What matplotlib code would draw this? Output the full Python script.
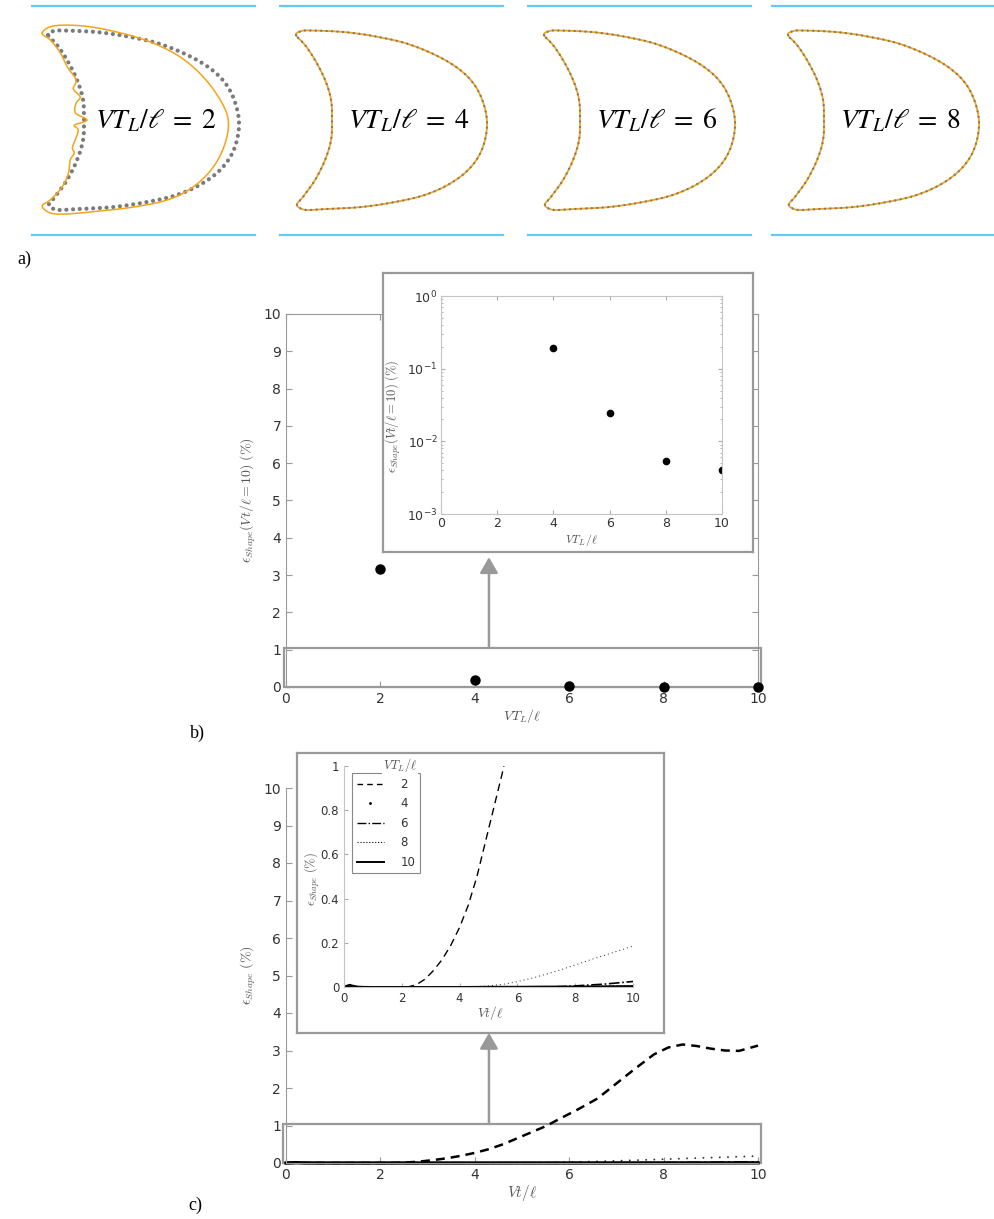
import numpy as np
import matplotlib
matplotlib.use('Agg')
import matplotlib.pyplot as plt
from matplotlib.lines import Line2D
from matplotlib.patches import Rectangle, FancyArrowPatch

plt.rcParams['font.family'] = 'DejaVu Sans'
plt.rcParams['mathtext.fontset'] = 'cm'

W, H = 995, 1219

# target outline of the droplet, channel width = 1
ref_x = [0.070, 0.092, 0.135, 0.284, 0.428, 0.572, 0.721, 0.821, 0.878, 0.904, 0.886, 0.834, 0.747,
         0.633, 0.502, 0.354, 0.210, 0.122, 0.086, 0.074, 0.100, 0.153, 0.197, 0.223, 0.227, 0.223,
         0.197, 0.153, 0.109]
ref_y = [0.873, 0.890, 0.893, 0.886, 0.865, 0.830, 0.764, 0.690, 0.603, 0.493, 0.384, 0.297, 0.227,
         0.175, 0.144, 0.122, 0.114, 0.109, 0.118, 0.135, 0.166, 0.240, 0.328, 0.415, 0.502, 0.590,
         0.677, 0.764, 0.830]

# outline obtained with VT_L/l = 2
cut_x = [0.044, 0.093, 0.224, 0.372, 0.517, 0.648, 0.748, 0.822, 0.857, 0.844, 0.792, 0.704, 0.591,
         0.442, 0.298, 0.154, 0.080, 0.044, 0.080, 0.132, 0.159, 0.167, 0.185, 0.176, 0.189, 0.202,
         0.185, 0.241, 0.189, 0.193, 0.211, 0.180, 0.193, 0.154, 0.124, 0.080]
cut_y = [0.881, 0.913, 0.913, 0.886, 0.843, 0.777, 0.690, 0.590, 0.502, 0.402, 0.297, 0.210, 0.153,
         0.122, 0.105, 0.092, 0.096, 0.127, 0.153, 0.210, 0.271, 0.328, 0.358, 0.380, 0.415, 0.459,
         0.480, 0.502, 0.533, 0.576, 0.603, 0.638, 0.677, 0.734, 0.795, 0.852]

vtl = [2, 4, 6, 8, 10]
err_end = [3.17, 0.19, 0.0245, 0.0054, 0.004]

# shape error history
t2 = [0, 0.5, 1.0, 1.5, 2.0, 2.2, 2.5, 2.8, 3.1, 3.4, 3.7, 4.0, 4.3, 4.6, 4.9, 5.2, 5.5, 5.8,
      6.2, 6.6, 7.0, 7.4, 7.8, 8.1, 8.4, 8.7, 9.0, 9.3, 9.6, 10.0]
e2 = [0, 0.002, 0, 0.001, 0, 0, 0.01, 0.035, 0.075, 0.125, 0.19, 0.27, 0.37, 0.50, 0.66, 0.82,
      0.98, 1.18, 1.44, 1.72, 2.12, 2.52, 2.90, 3.08, 3.16, 3.12, 3.05, 3.00, 2.99, 3.13]
t_grid = [0, 0.5, 1.0, 1.5, 2.0, 2.5, 3.0, 3.5, 4.0, 4.5, 5.0, 5.5, 6.0, 6.5, 7.0, 7.5, 8.0, 8.5,
          9.0, 9.5, 10.0]
e4 = [0, 0, 0, 0, 0, 0, 0, 0, 0, 0.001, 0.005, 0.012, 0.024, 0.04, 0.058, 0.078, 0.10, 0.122,
      0.143, 0.164, 0.185]
e6 = [0, 0, 0, 0, 0, 0, 0, 0, 0, 0, 0, 0, 0, 0, 0, 0.002, 0.005, 0.009, 0.013, 0.019, 0.025]
e8 = [0, 0, 0, 0, 0, 0, 0, 0, 0, 0, 0, 0, 0, 0, 0, 0, 0.002, 0.003, 0.0035, 0.0045, 0.0054]
t10 = [0, 0.1, 0.2, 0.3, 0.5, 1, 2, 3, 4, 5, 6, 7, 8, 9, 10]
e10 = [0, 0.006, 0.01, 0.006, 0.001, 0, 0, 0, 0, 0.001, 0.001, 0.002, 0.002, 0.003, 0.004]

GRAY = '#999999'
TXT = '#333333'
LAB = '#555555'


def px_axes(left, top, right, bottom):
    return fig.add_axes([left / W, 1 - bottom / H, (right - left) / W, (bottom - top) / H])


def smooth_closed(xs, ys, n=10):
    # closed Catmull-Rom curve through the outline points
    p = np.column_stack([xs, ys])
    m = len(p)
    out = []
    for i in range(m):
        p0, p1, p2, p3 = p[i - 1], p[i], p[(i + 1) % m], p[(i + 2) % m]
        for t in np.linspace(0, 1, n, endpoint=False):
            out.append(0.5 * (2 * p1 + (p2 - p0) * t + (2 * p0 - 5 * p1 + 4 * p2 - p3) * t ** 2
                              + (3 * p1 - p0 - 3 * p2 + p3) * t ** 3))
    out.append(out[0])
    out = np.array(out)
    return out[:, 0], out[:, 1]


fig = plt.figure(figsize=(W / 100, H / 100), dpi=100)

# ---- a) droplet outlines
rx, ry = smooth_closed(ref_x, ref_y)
cx, cy = smooth_closed(cut_x, cut_y, n=4)
panel_left = [32, 280, 528, 772]
for k, left in enumerate(panel_left):
    ax = px_axes(left, 6, left + 223, 235)
    ax.set_xlim(0, 223 / 229)
    ax.set_ylim(0, 1)
    ax.axis('off')
    for yy in (0, 1):
        ax.plot([0, 223 / 229], [yy, yy], color='#66c8f5', lw=1.6, clip_on=False)
    if k == 0:
        ax.plot(rx, ry, color='#7a7a7a', lw=3.0, linestyle=(0, (0.01, 1.6)),
                dash_capstyle='round')
        ax.plot(cx, cy, color='#f5a31a', lw=1.1)
        tx = 0.54
    else:
        ax.plot(rx, ry, color='#f5a31a', lw=1.3)
        ax.plot(rx, ry, color='#7a7a7a', lw=1.7, linestyle=(0, (0.01, 2.3)),
                dash_capstyle='round')
        tx = 0.56
    ax.text(tx, 0.5, r'$VT_L/\ell\;=\;%d$' % vtl[k], ha='center', va='center',
            fontsize=20, math_fontfamily='stix')

fig.text(17 / W, 1 - 259 / H, 'a)', family='Liberation Serif', fontsize=13, va='center')
fig.text(190 / W, 1 - 733 / H, 'b)', family='Liberation Serif', fontsize=13, va='center')
fig.text(188 / W, 1 - 1205 / H, 'c)', family='Liberation Serif', fontsize=13, va='center')

# ---- b) final shape error vs VT_L/l
ab = px_axes(286, 314, 758, 687)
ab.set_xlim(0, 10)
ab.set_ylim(0, 10)
ab.set_xticks(range(0, 11, 2))
ab.set_yticks(range(0, 11))
ab.tick_params(direction='in', top=True, right=True, length=4, width=0.8, color=GRAY,
               labelcolor=TXT, labelsize=10)
for s in ab.spines.values():
    s.set_color(GRAY)
ab.plot(vtl, err_end, 'o', color='k', ms=6.5, clip_on=False, zorder=5)
ab.add_patch(Rectangle((-0.04, 0), 10.1, 1.05, fill=False, ec=GRAY, lw=1.6, clip_on=False))
ab.add_patch(FancyArrowPatch((4.3, 1.05), (4.3, 3.48), arrowstyle='-|>,head_length=0.95,head_width=0.55',
                             mutation_scale=10, color=GRAY, lw=1.8, shrinkA=0, shrinkB=0))
ab.set_xlabel(r'$VT_L/\ell$', color=LAB, fontsize=10, va='center')
ab.xaxis.set_label_coords(0.5, -0.078)
ab.set_ylabel(r'$\epsilon_{Shape}(Vt/\ell = 10)\ (\%)$', color=LAB, fontsize=10, va='center')
ab.yaxis.set_label_coords(-0.08, 0.5)

fb = px_axes(383, 273, 753, 552)
fb.set_xticks([])
fb.set_yticks([])
for s in fb.spines.values():
    s.set_color(GRAY)
    s.set_linewidth(1.6)

ib = px_axes(441, 296, 722, 514)
ib.set_yscale('log')
ib.set_xlim(0, 10)
ib.set_ylim(1e-3, 1)
ib.set_xticks(range(0, 11, 2))
ib.plot(vtl[1:], err_end[1:], 'o', color='k', ms=4.5)
ib.tick_params(which='both', direction='in', top=True, right=True, color='#aaaaaa',
               labelcolor=TXT, labelsize=9, pad=2.5)
ib.tick_params(which='major', length=3)
ib.tick_params(which='minor', length=1.5)
for s in ib.spines.values():
    s.set_color('#c4c4c4')
ib.set_xlabel(r'$VT_L/\ell$', color=LAB, fontsize=8.5, va='center')
ib.xaxis.set_label_coords(0.5, -0.12)
ib.set_ylabel(r'$\epsilon_{Shape}(Vt/\ell = 10)\ (\%)$', color=LAB, fontsize=9, va='center')
ib.yaxis.set_label_coords(-0.17, 0.45)

# ---- c) shape error history
ac = px_axes(286, 788, 758, 1163)
ac.set_xlim(0, 10)
ac.set_ylim(0, 10)
ac.set_xticks(range(0, 11, 2))
ac.set_yticks(range(0, 11))
ac.spines['top'].set_visible(False)
ac.spines['right'].set_visible(False)
for s in ('left', 'bottom'):
    ac.spines[s].set_color(GRAY)
ac.tick_params(direction='in', length=4, width=0.8, color=GRAY, labelcolor=TXT, labelsize=10)
ac.plot(t2, e2, color='k', lw=1.8, linestyle=(0, (3.6, 2.4)), clip_on=False)
ac.plot(t_grid, e4, color='#333333', lw=1.4, linestyle=(0, (0.01, 4.2)),
        dash_capstyle='round', clip_on=False)
ac.plot(t_grid, e6, color='k', lw=1.6, linestyle='-.', clip_on=False)
ac.plot(t_grid, e8, color='k', lw=1.2, linestyle=':', clip_on=False)
ac.plot(t10, e10, color='k', lw=2.4, clip_on=False)
ac.add_patch(Rectangle((-0.06, 0), 10.12, 1.04, fill=False, ec=GRAY, lw=1.6, clip_on=False))
ac.add_patch(FancyArrowPatch((4.3, 1.04), (4.3, 3.47), arrowstyle='-|>,head_length=0.95,head_width=0.55',
                             mutation_scale=10, color=GRAY, lw=1.8, shrinkA=0, shrinkB=0))
ac.set_xlabel(r'$Vt/\ell$', color=LAB, fontsize=11, va='center')
ac.xaxis.set_label_coords(0.5, -0.08)
ac.set_ylabel(r'$\epsilon_{Shape}\ (\%)$', color=LAB, fontsize=10, va='center')
ac.yaxis.set_label_coords(-0.08, 0.5)

fc = px_axes(297, 753, 664, 1033)
fc.set_xticks([])
fc.set_yticks([])
for s in fc.spines.values():
    s.set_color(GRAY)
    s.set_linewidth(1.6)

ic = px_axes(344, 766, 633, 987)
ic.set_xlim(0, 10)
ic.set_ylim(0, 1)
ic.set_xticks(range(0, 11, 2))
ic.set_yticks([0, 0.2, 0.4, 0.6, 0.8, 1])
ic.set_yticklabels(['0', '0.2', '0.4', '0.6', '0.8', '1'])
ic.spines['top'].set_visible(False)
ic.spines['right'].set_visible(False)
for s in ('left', 'bottom'):
    ic.spines[s].set_color('#c4c4c4')
ic.tick_params(direction='in', length=3, color='#aaaaaa', labelcolor=TXT, labelsize=8.5)
ic.plot(t2, e2, color='k', lw=1.0, linestyle=(0, (5.5, 3.5)))
ic.plot(t_grid, e4, color='#333333', lw=0.9, linestyle=(0, (0.01, 3.2)), dash_capstyle='round')
ic.plot(t_grid, e6, color='k', lw=1.2, linestyle='-.')
ic.plot(t_grid, e8, color='k', lw=1.0, linestyle=':')
ic.plot(t10, e10, color='k', lw=1.4)
ic.set_xlabel(r'$Vt/\ell$', color=LAB, fontsize=9.5, va='center')
ic.xaxis.set_label_coords(0.505, -0.118)
ic.set_ylabel(r'$\epsilon_{Shape}\ (\%)$', color=LAB, fontsize=9, va='center')
ic.yaxis.set_label_coords(-0.11, 0.49)

handles = [Line2D([], [], color='k', lw=1.0, linestyle=(0, (4, 3))),
           Line2D([], [], color='k', ls='none', marker='.', ms=2),
           Line2D([], [], color='k', lw=1.0, linestyle='-.'),
           Line2D([], [], color='k', lw=0.8, linestyle=':'),
           Line2D([], [], color='k', lw=1.4)]
leg = ic.legend(handles, [str(v) for v in vtl], loc='upper left', bbox_to_anchor=(0.028, 0.968),
                borderaxespad=0, fancybox=False, edgecolor='#888888', fontsize=8.5,
                handlelength=2.3, handletextpad=1.4, labelspacing=0.55, borderpad=0.4,
                framealpha=1)
leg.get_frame().set_linewidth(0.8)
for t in leg.get_texts():
    t.set_color(TXT)
fig.text(400 / W, 1 - 765 / H, r'$VT_L/\ell$', ha='center', va='center', fontsize=9, color=LAB,
         bbox=dict(fc='white', ec='none', pad=0.6))

fig.savefig('out.png', dpi=100)
